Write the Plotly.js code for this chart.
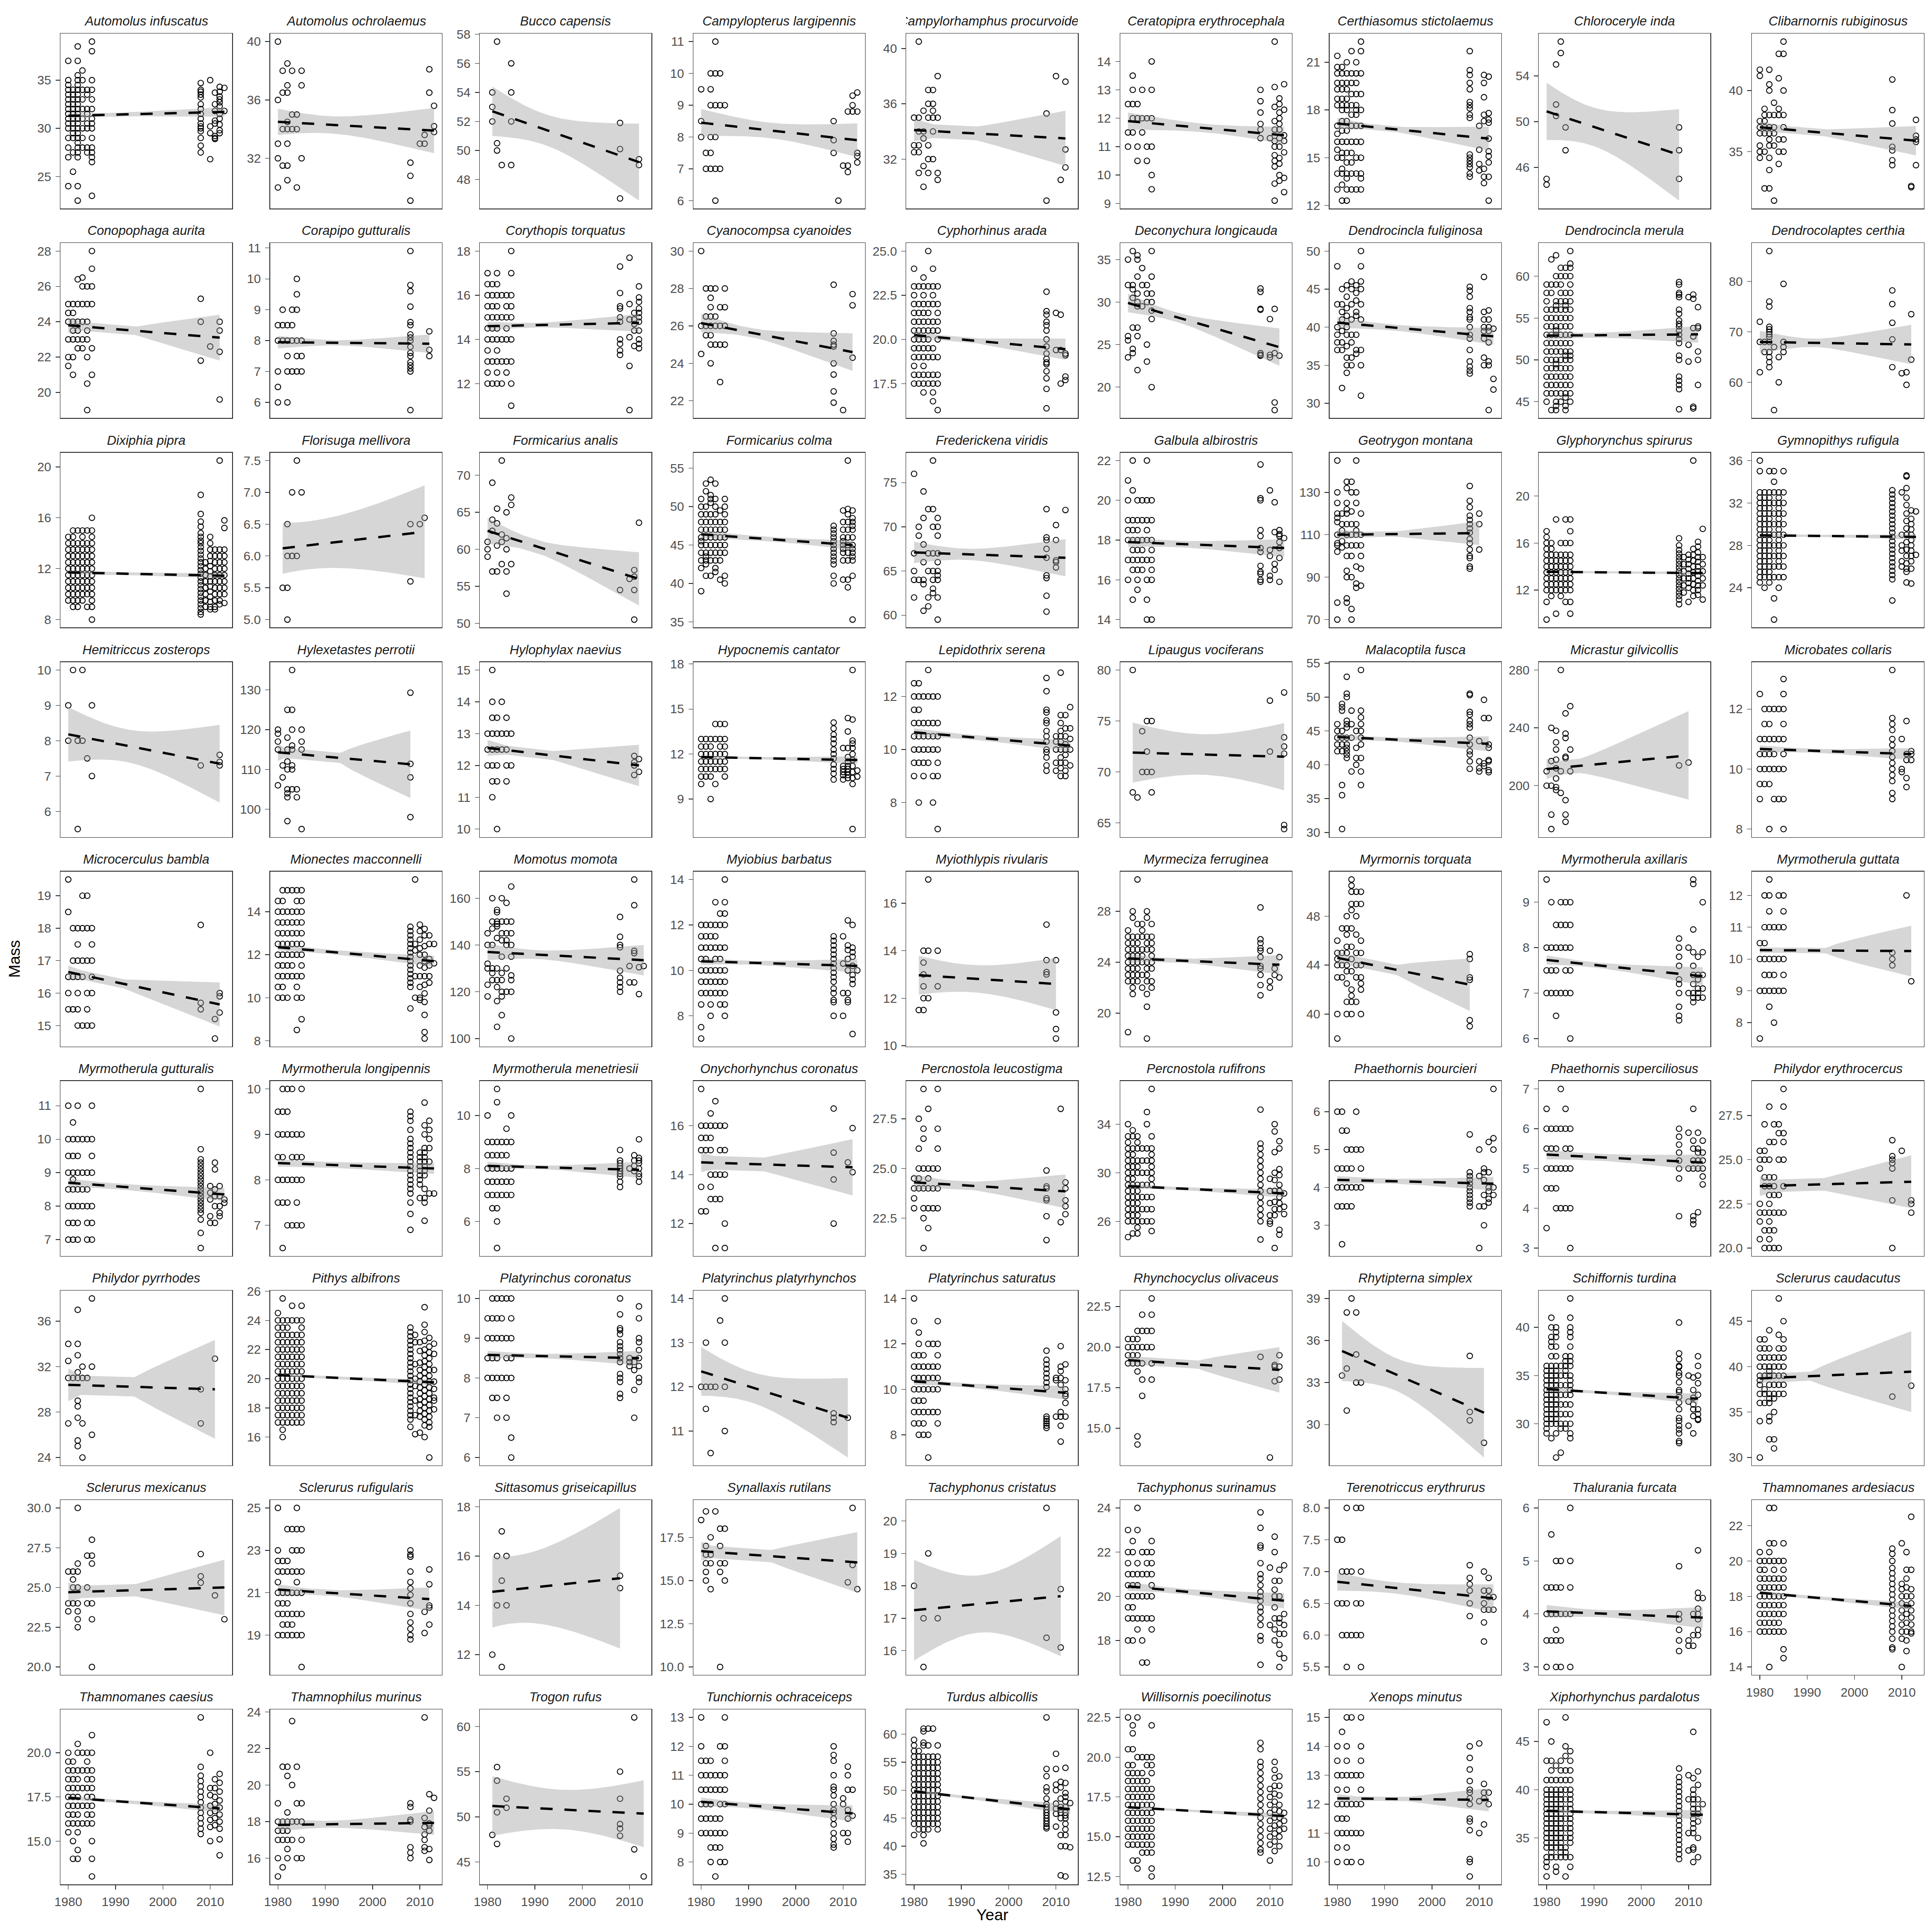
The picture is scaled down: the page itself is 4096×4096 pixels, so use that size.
<!DOCTYPE html>
<html><head><meta charset="utf-8">
<script src="https://cdn.plot.ly/plotly-3.0.1.min.js"></script>
<style>html,body{margin:0;padding:0;background:#fff}#chart{width:4096px;height:4096px}</style>
</head><body><div id="chart"></div>
<script>
const species=["Automolus infuscatus","Automolus ochrolaemus","Bucco capensis","Campylopterus largipennis","Campylorhamphus procurvoides","Ceratopipra erythrocephala","Certhiasomus stictolaemus","Chloroceryle inda","Clibarnornis rubiginosus","Conopophaga aurita","Corapipo gutturalis","Corythopis torquatus","Cyanocompsa cyanoides","Cyphorhinus arada","Deconychura longicauda","Dendrocincla fuliginosa","Dendrocincla merula","Dendrocolaptes certhia","Dixiphia pipra","Florisuga mellivora","Formicarius analis","Formicarius colma","Frederickena viridis","Galbula albirostris","Geotrygon montana","Glyphorynchus spirurus","Gymnopithys rufigula","Hemitriccus zosterops","Hylexetastes perrotii","Hylophylax naevius","Hypocnemis cantator","Lepidothrix serena","Lipaugus vociferans","Malacoptila fusca","Micrastur gilvicollis","Microbates collaris","Microcerculus bambla","Mionectes macconnelli","Momotus momota","Myiobius barbatus","Myiothlypis rivularis","Myrmeciza ferruginea","Myrmornis torquata","Myrmotherula axillaris","Myrmotherula guttata","Myrmotherula gutturalis","Myrmotherula longipennis","Myrmotherula menetriesii","Onychorhynchus coronatus","Percnostola leucostigma","Percnostola rufifrons","Phaethornis bourcieri","Phaethornis superciliosus","Philydor erythrocercus","Philydor pyrrhodes","Pithys albifrons","Platyrinchus coronatus","Platyrinchus platyrhynchos","Platyrinchus saturatus","Rhynchocyclus olivaceus","Rhytipterna simplex","Schiffornis turdina","Sclerurus caudacutus","Sclerurus mexicanus","Sclerurus rufigularis","Sittasomus griseicapillus","Synallaxis rutilans","Tachyphonus cristatus","Tachyphonus surinamus","Terenotriccus erythrurus","Thalurania furcata","Thamnomanes ardesiacus","Thamnomanes caesius","Thamnophilus murinus","Trogon rufus","Tunchiornis ochraceiceps","Turdus albicollis","Willisornis poecilinotus","Xenops minutus","Xiphorhynchus pardalotus"];

// Mass by year: each inner array = [year, masses...]
const s1=[[1980,37,35,34.5,34,33.5,33,32.5,32,31.5,31,30.5,30,29,28,27,24],[1981,34,33.5,33,32.5,32,31.5,31,30.5,30,29.5,29,27.5,25.5],[1982,38.5,37,35.5,35,34.5,34,33.5,33,32.5,32,31.5,31,30.5,30,29.5,29,28.5,28,27.5,27,24,22.5],[1983,36,35,34,33,32,31,30,29,28],[1984,34,33.5,32,31.5,30.5,30,28,27.5],[1985,39,38,35,34,33,32,31,30.5,30,29,28,27.5,27,26.5,23],[2008,34.7,34,33.8,33.5,33.2,32.5,32,31.5,31,30.5,30.2,30,29.7,29,28.2,27.5],[2010,35,30.2,29.5,26.8],[2011,33.7,32.5,31.8,30.8,30.5,29.2,29,28.9],[2012,34.3,33.8,33.3,33,32.7,32.3,31.5,31,30.4,29.8,29.5],[2013,34.2,31.8]];
const s2=[[1980,40,36,33,32,30],[1981,38,36.5,34,31.5],[1982,38.5,37,36.5,34.5,34,33,31.5,30.5],[1983,38,35,34],[1984,35,34,30],[1985,38,37,32],[2008,31.7,30.8,29.1],[2010,33],[2011,33.6,33],[2012,38.1,36.5],[2013,35.6,34.2,33.8]];
const s3=[[1981,54,53,52],[1982,57.5,50.5,50],[1983,49],[1985,56,54,52,49],[2008,51.9,50.1,46.7],[2012,49.4,49]];
const s4=[[1980,9.5,8.5,8],[1981,7.5,7],[1982,10,9.5,9,8,7.5,7],[1983,11,10,9,8,7,6],[1984,10,9,7],[1985,9],[2008,8.5,7.9,7.5],[2009,6],[2010,7.1],[2011,8.8,7.1,6.9],[2012,9.3,9,8.8],[2013,9.4,8.8,7.5,7.4,7.2]];
const s5=[[1980,35,33,32.5],[1981,40.5,35,34,33,32.5,31],[1982,35.5,34,33.5,31.5,30],[1983,37,36,35,33,32,31],[1984,37,36,35.5,35,34,32],[1985,38,35,31,30.5],[2008,35.3,29],[2010,38],[2011,30.5],[2012,37.6,32.7,31.4]];
const s6=[[1980,12.5,11.5,11],[1981,13.5,13,12.5,12,11.5],[1982,12.5,12,11,10.5],[1983,13,12,11.5],[1984,12,11,10.5],[1985,14,13,12,11,10,9.5],[2008,13,12.6,12.2,11.8,11.6,11.3],[2010,11.3],[2011,14.7,13.1,12.4,11.9,11.6,11.2,11,10.7,10.5,10.3,9.7,9.1],[2012,12.7,12.5,12.2,12,11.8,11.6,11.3,11,10.6,10.4,10,9.8],[2013,13.2,12.3,11.4,11.2,10.8,9.9,9.4]];
const s7=[[1980,21.4,20.7,20.3,19.7,19.3,18.7,18.3,17,16.5,16,15.5,15,14,13],[1981,20.7,20.3,19.7,19.3,18.7,18.3,18,17.3,16.7,16,15.3,15,14.3,14,13.3,12.3],[1982,21,20.3,19.7,19.3,18.7,18.3,18,17.3,16.7,16,15.3,14.7,14,13.7,13,12.3],[1983,21.7,20.3,19.7,19,18.3,17.7,17,16,15.3,14.7,14,13],[1984,21,20.3,19.7,19,18.3,18,17.7,17,16,15,14,13],[1985,22.3,21.7,20.3,19,18,17,16,15,14,13.7,13],[2008,21.7,20.5,20.2,19.7,19.3,18.5,18.3,18.1,17.7,17.5,15.2,15,14.8,14.6,14.4,14,13.8],[2010,17,15.5,14.6,14.2],[2011,20.2,19.7,18.8,17.7,17.3,14.3,13.8,13.4],[2012,20.1,17.8,17.4,17.2,16.2,15.4,15.1,14.7,13.8,12.3]];
const s8=[[1980,45,44.5],[1982,55,51.5,50.5],[1983,57,56],[1984,49.5,47.5],[2008,49.5,47.5,45]];
const s9=[[1980,41.7,41.2,37.5,37,36.5,35.5,35,34.5],[1981,38.5,38,37.5,37,36.5,35,32],[1982,41.7,40.5,40,38,37,36.5,36,35.5,34.5,33.5,32],[1983,39,38,37,36.5,35.5,31],[1984,43,41,38.5,38,36,35,34],[1985,44,43,40,38,37,36,35],[2008,40.9,38.4,37.3,35.4,35.1,34.3,33.9],[2012,32.2,32.1],[2013,37.6,36.3,36,35.8,33.9]];
const s10=[[1980,25,24.5,24,23,22,21.5],[1981,25,24.5,24,23.5,23,22,21],[1982,26.4,25,24,23.5,23,22.5],[1983,26.5,26,25,24,23,22.5],[1984,26,25,24,23.5,23,22,20.5,19],[1985,28,27,26,25,22.5,21],[2008,25.3,24,21.8],[2010,22.6],[2012,24,23.5,22.3,19.6]];
const s11=[[1980,8.5,8,7,6.5,6],[1981,9,8.5,8],[1982,8.5,8,7.5,7,6],[1983,9,8.5,8,7],[1984,10,9.5,9,8,7.5,7],[1985,8,7.5,7],[2008,10.9,9.8,9.6,9.1,8.6,8.5,8.2,8.1,8,7.8,7.6,7.5,7.3,7.2,7.1,7,5.75],[2012,8.3,7.7,7.5]];
const s12=[[1980,17,16.5,16,15.5,15,14.5,14,13.5,13,12.5,12],[1981,16.5,16,15.5,15,14.5,14,13,12],[1982,17,16.5,16,15.5,15,14.5,14,13.5,13,12.5,12],[1983,16,15,14,13,12],[1984,16,15.5,15,14.5,14,13,12.5],[1985,18,17,16,15.5,15,14,13,12,11],[2008,17.3,16.1,15.5,15.4,15,14.8,14,13.8,13.5,13.3],[2010,17.7,15.6,14.9,14.1,12.8,10.8],[2011,15.2,14.9,14.7,14.4,13.7],[2012,16.4,15.9,15.7,15.4,15.2,15,14.8,14.4,14,13.8,13.6]];
const s13=[[1980,30,26,24.5],[1981,28,26.5,26,25.5],[1982,28,27.5,27,26.5,26,25.5,25,24],[1983,28,26.5,26,25],[1984,27,26,25,23],[1985,28,27,26,25],[2008,28.2,25.6,25.2,25,24.9,24,23.4,22.5,21.9],[2010,21.5],[2012,27.7,27.1,24.3]];
const s14=[[1980,24,23,22.5,22,21.5,21,20.5,20,19.5,19,18.5,18,17.5],[1981,23,22,21.5,21,20.5,20,19.5,19,18,17.5],[1982,23.5,23,22.5,22,21.5,21,20.5,20,19.5,19,18.5,18,17.5,17],[1983,25,23,22,21.5,21,20.5,20,19.5,19,18,17.5],[1984,24,23,22.5,22,21,20.5,19.5,19,18,17.5,17,16.5],[1985,23,22,21.5,21,20.5,20,19,18,17.5,16],[2008,22.7,21.6,21.4,21,20.8,20.5,20,19.6,19.2,18.9,18.7,18.6,18.2,17.8,17.2,16.1],[2010,21.5,19.4],[2011,21.4,19.4,17.5],[2012,19.2,19.1,17.9,17.7]];
const s15=[[1980,35,32,26,25.5,23.5],[1981,36,32,31.5,30.5,27,24.5,24],[1982,35.5,35,33,31,30,29.5,27,26,22],[1983,34,32,29.5],[1984,32,31,30,25,23],[1985,36,33,31,30,29,28,20],[2008,31.6,31.2,29.2,29.1,24,23.8,23.7],[2010,28,23.8,23.5],[2011,29.2,24,18.2,17.3],[2012,23.7]];
const s16=[[1980,48,43,40,39,38,37],[1981,45,43,42,41,39.5,38,37,32],[1982,45.5,44,42.5,41.5,40,39,37.5,36,35,34],[1983,46,45,43,41,39,38,36,35],[1984,45.5,44.5,43.5,42,41.5,39,37,36.5],[1985,50,48,46,45,43,41,37,35,31],[2008,45.3,44.8,44,42.5,42,41.3,41,40,39,38.5,37,35.5,34.8,34.3,33.9],[2011,46.6,42,41,40,39.5,38.5,36,35],[2012,42.2,41,40,39.5,38,35.5,35,29.1],[2013,39.8,33.2,31.8]];
const s17=[[1980,59,58,57,56,55,54,53,52,51,50,49,48,47,46,45],[1981,62,59,58,56,55,54,53,52,51,50,49,48,47,46,44],[1982,62.5,60,59,57,56.5,56,55,54,53.5,53,52,51,50,49.5,49,48,47,46,45,44.5,44],[1983,61,60,59,58,57,56,55,54,53,52,51,50,49,48,47,46,45],[1984,61,60,58,57,56.5,56,55,54,53,52,51,50.5,50,49,48,47,46,45.5,44.5,44],[1985,63,61.5,61,60,59,58,57,56,55,54,53,52,51,50.5,50,49,48,47,46,45],[2008,59.3,59,58,57.8,57.5,56,55.5,54.7,54.3,54,53.5,53,52.5,52,50.5,50,48,47.5,47,46.5,44.1],[2010,57.5,51.8,49.8],[2011,57.8,57.3,53.8,52.8,44.4,44.2],[2012,56.3,54,53.8,51,50,47]];
const s18=[[1980,72,68,62],[1981,68,66],[1982,86,76,75,71,70.5,70,69.5,69,68,66,65,64,63],[1983,67,54.5],[1984,65,60],[1985,79.5,68,67,66],[2008,78.2,75.5,71.8,68.5,63],[2010,61.8],[2011,62,59.5],[2012,73.5,64.5]];
const s19=[[1980,14.5,14,13.5,13,12.5,12,11.5,11,10.5,10,9.5],[1981,15,14.5,14,13.5,13,12.5,12,11.5,11,10.5,10,9.5,9],[1982,15,14,13.5,13,12.5,12,11.5,11,10.5,10,9.5,9],[1983,15,14.5,14,13.5,13,12.5,12,11.5,11,10.5,10,9.5],[1984,15,14,13.5,13,12.5,12,11.5,11,10.5,10,9],[1985,16,15,14.5,14,13.5,13,12.5,12,11.5,11,10.5,10,9.5,9,8],[2008,17.8,16.3,15.7,15.3,14.8,14.5,14.2,14,13.7,13.4,13.1,12.8,12.5,12.2,11.9,11.6,11.3,11,10.7,10.4,10.1,9.8,9.5,9.2,8.9,8.6,8.4],[2009,12.5,12,11.5,11,10.5,10,9.5,9],[2010,14.5,14,13.5,13,12.6,12.2,11.8,11.4,11,10.6,10.2,9.8,9.4,9,8.8],[2011,13.5,13,12.5,12,11.5,11,10.5,10,9.5,9,8.8],[2012,20.5,13.5,13,12.5,12,11.5,11,10.5,10,9.5,9.2],[2013,15.8,15.2,13.5,13,12.5,12,11.5,11,10.5,10,9.3]];
const s20=[[1981,5.5],[1982,6.5,6,5.5,5],[1983,7,6],[1984,7.5,6],[1985,7],[2008,6.5,5.6],[2010,6.5],[2011,6.6]];
const s21=[[1980,61,60,59],[1981,69,64,62.5,57],[1982,65.5,63.5,60.5,57],[1983,72,62,61,58],[1984,65,61.5,60,57,54],[1985,67,66,58],[2008,54.5],[2010,56],[2011,57.2,56.3,54.5,50.5],[2012,63.6]];
const s22=[[1980,51,50,49,48,47,46,45.5,45,44,43,42,39],[1981,53,52,50,49,48,47,46,45,44,43.5,43,42.5,41],[1982,53.5,51.5,51,50.5,49,48,47,46,45,44,43,41],[1983,53,51,50,49,48,47,46,45,44,43,42,41.5],[1984,49.5,48,47,46,45,44,43,40.5],[1985,51,50,49,48,47,46,45,44,41,40],[2008,47.5,47,46.5,46,45.5,45,44.5,44,43.5,43,42.5,41,40],[2010,49.5,48,47,46,45.5,45,44.5,44,43,40.5],[2011,56,49.7,49,48,47,46,45,44,43,40.5,39.5],[2012,49.5,48.5,48,47.5,47,46,45,44.5,44,43.5,43,41,35.3]];
const s23=[[1980,76,67,65,64,62],[1981,70,69,64],[1982,74,71,68,66,64,63.5,60.5],[1983,72,67,65,62,61],[1984,77.5,72,70,67,65,64,63,62.5],[1985,71,70,69,67,66,65,64.5,64,62,59.5],[2008,72,68.8,68.5,67.5,66.5,64.5,64.2,62.2,60.4],[2010,70.2,68.5,66.2,66,65.4],[2012,71.9]];
const s24=[[1980,21,20,19,18.5,18,17,16],[1981,22,20.5,19,18.5,18,17.5,17,16.5,15],[1982,20,19,18.5,18,17.5,17,16.5,16,15.5],[1983,20,19,18,17.5,17,16.5],[1984,22,20,19,18.5,18,17,16,15,14],[1985,20,19,18,17.5,17,16.5,16,14],[2008,21.8,20.1,20,18.5,18.2,17.6,17.4,16.7,16.4,16.3,16,15.9],[2010,20.5,17.5,17.2,16.2,16],[2011,19.9,18.4,16.8,16.5],[2012,18.5,18.3,18.2,17.9,17.6,17.1,15.9],[2013,18.1]];
const s25=[[1980,145,130,125,120,118,116,110,106,105,102,78,70],[1981,120,115,112,107,104],[1982,135,132,125,122,120,115,110,105,100,93,90,80,78],[1983,135,130,121,115,110,105,100,90,75,70],[1984,145,130,125,115,112,110,105,95,87,85],[1985,120,110,105,100,94,86],[2008,133,126,123,119,117,115,113,111,108,106,103,100,99,95,94],[2010,120,115,103]];
const s26=[[1980,17,16.5,16,15.5,15,14.5,14,13.5,13,12.5,12,11,9.5],[1981,16,15.5,15,14.5,14,13.5,13,12.5,12,11.5],[1982,18,15,14.5,14,13.5,13,12.5,12,10],[1983,16,15,14.5,14,13.5,13,12.5,12,11.5],[1984,18,16,15,14.5,14,13.5,13,12.5,12,11],[1985,18,17,16,15,14.5,14,13.5,13,12.5,12,11,10],[2008,16.4,15.8,15.4,15.1,14.8,14.5,14.2,13.9,13.6,13.3,13,12.7,12.4,12.1,11.8,11.5,11.2,10.8],[2009,14.8,14.2,13.6,13,12.4,11.8],[2010,15,14.6,14.2,13.8,13.4,13,12.6,12.2,11],[2011,23,15.5,15,14.5,14,13.5,13,12.5,12,11.5],[2012,16.1,15.7,15.2,14.8,14.4,14,13.6,13.2,12.8,12.4,12,11.6],[2013,17.2,14.8,14.2,13.6,13,12.4,11.2]];
const s27=[[1980,36,35,33,32.5,32,31.5,31,30.5,30,29.5,29,28.5,28,27.5,27,26.5,26,25.5,25,24.5],[1981,33,32.5,32,31.5,31,30.5,30,29.5,29,28.5,28,27.5,27,26.5,26,25.5,25,24],[1982,35,33,32.5,32,31.5,31,30.5,30,29.5,29,28.5,28,27.5,27,26.5,26,25.5,25,24.5],[1983,35,34,33,32,31,30,29,28,27,26,25,23,21],[1984,33,32.5,32,31.5,31,30.5,30,29.5,29,28.5,28,27.5,27,26.5,26,25,24],[1985,35,33,32,31,30,29,28,27,26,25],[2008,33.2,32.8,32.4,32,31.6,31.2,30.8,30.4,30,29.6,29.2,28.8,28.4,28,27.6,27.2,26.8,26.4,26,25.6,25.2,24.8,22.8],[2010,33,29,28,27.5,26.5,26],[2011,34.6,34.5,33.4,32.5,31.8,31,30.3,29.6,29,28.3,27.6,27,26.3,25.8,25.5,24.5],[2012,31.3,30.5,30,29.5,29,28.5,28,27.5,27,26.5,25.8,24.4],[2013,31.2,27.1]];
const s28=[[1980,9,8],[1981,10],[1982,8,5.5],[1983,10,8],[1984,7.5],[1985,9,7],[2008,7.3],[2012,7.6,7.4,7.3]];
const s29=[[1980,120,119,117,115,106],[1981,111,108],[1982,125,118,115,112,110,105,104,103,97],[1983,135,125,120,116,115,111,110,105],[1984,105,103],[1985,120,117,115,95],[2008,129.3,111.4,108,98]];
const s30=[[1980,13,12.5,12],[1981,15,14,13.5,13,12.5,12,11.5,11],[1982,13.5,13,12.5,12,11.5,10],[1983,14,13,12.5],[1984,13.5,13,12.5,12,11.5],[1985,13,12],[2011,12.3,12.1,12,11.7],[2012,12.2,11.8]];
const s31=[[1980,13,12.5,12,11.5,11,10.5,10],[1981,13,12.5,12,11.5,11,10.5],[1982,13,12.5,12,11.5,11,10.5,9],[1983,14,13,12,11.5,11,10],[1984,14,13,12.5,12,11.5,11],[1985,14,13,12.5,12,11.5,11,10.5],[2008,14.1,13.7,13.3,13,12.7,12.3,12,11.7,11.3,11,10.7,10.3],[2010,12.4,11.2,11,10.8,10.6,10.3],[2011,14.4,13.5,12.4,11.8,11.5,11.2,11,10.8,10.6,10.4],[2012,17.6,14.3,12.9,12.7,12.4,12,11.6,11.2,10.8,10.4,10,7],[2013,10.9,10.5]];
const s32=[[1980,12.5,12,11.5,11,10.5,10,9.5,9],[1981,12.5,12,11.5,11,10.5,10,9.5,8],[1982,12,11,10.5,10,9.5,9],[1983,13,12,11,10.5,10,9.5],[1984,12,11,10.5,10,9,8],[1985,12,11,10.5,10,9.5,9,7],[2008,12.7,12.2,11.5,11.4,11.1,11,10.7,10.5,10.3,10,9.9,9.7,9.4,9.2],[2010,10.5,10.3,10,9.5,9.2],[2011,12.9,11.3,11,10.7,10.5,10.3,10,9.7,9.5,9.3,9],[2012,11.3,10.8,10.5,10.2,10,9.8,9.5,9.2,9],[2013,11.6,10.8,10.4,10,9.4]];
const s33=[[1981,80,68],[1982,67.5],[1983,74,70],[1984,75,72,70],[1985,75,70,68],[2010,77,72],[2013,77.8,73.4,72.5,71.8,64.8,64.4]];
const s34=[[1980,46,45,44,43,42],[1981,49,48.5,48,45,44,43,42,37,35.5,30.5],[1982,53,50.5,50,46.5,46,45.5,44,43,42.5,42,41.5,41],[1983,48,46,44,39],[1984,45,42.5,41,40],[1985,54,48,47,46,45,44,43,41,39,37],[2008,50.5,50.3,47.8,47.4,46.5,46,45.5,44,43,42,41.5,40.5,39.4],[2010,43.5,40.5,39.5,39],[2011,49.6,46.9,40.2,39.8],[2012,46.9,43,42.5,40.7,40.5,39.2,38.9]];
const s35=[[1980,210,200],[1981,240,217,200,180,170],[1982,238,230,225,218,212,205,199,197],[1983,280,210,195],[1984,250,236,233,220,219,190,180,175],[1985,255,225,210],[2008,214],[2010,216]];
const s36=[[1980,12.5,11,10.5,10,9.5,9],[1981,12,11.5,11,10.5,10,9.5],[1982,12,11.5,11,10.5,10,9.5,8],[1983,12,11,10.5,10,9],[1984,12,11,10,9],[1985,13,12.5,12,11.5,11,10.5,10,9,8],[2008,13.3,11.7,11.5,11.3,11,10.8,10.6,10.4,10.2,10,9.8,9.6,9.2,9],[2010,11,10,9.9],[2011,11.6,10.5,10.3,9.7,9.4],[2012,10.6,10.5,10.3]];
const s37=[[1980,19.5,18.5,16.5,16,15.5],[1981,18,17,16.5,15.5],[1982,18,17.5,17,16.5,16,15.5,15],[1983,19,18,17,16.5,15],[1984,19,18,17,16,15.5,15],[1985,18,17.5,17,16.5,16,15],[2008,18.1,15.7,15.5],[2011,15.2,14.6],[2012,16,15.9,15.4]];
const s38=[[1980,14.5,14,13.5,13,12.5,12,11.5,11,10.5,10],[1981,15,14.5,14,13.5,13,12.5,12,11.5,11,10.5,10],[1982,15,14,13.5,13,12.5,12,11.5,11,10],[1983,15,14,13.5,13,12.5,12,11.5,11],[1984,15,14.5,14,13.5,13,12.5,12,11,10.5,10,8.5],[1985,15,14.5,14,13.5,13,12.5,12,11.5,11,10,9],[2008,13.3,13.1,12.9,12.7,12.5,12.3,12.1,11.9,11.7,11.5,11.3,11.1,10.9,10.7,10.5,9.5],[2009,15.5,12.5,12.2,11,10],[2010,13.4,13.1,12.7,12.3,12,11.5,11,10.5,10,9.9],[2011,13.2,12.9,12.4,12,11.7,11.4,11,10.6,10.2,9.8,9.2,8.4,8.1],[2012,12.9,12.5,11.8,11.5,11,10.7],[2013,12.5,11.6]];
const s39=[[1980,145,140,132,130,123,118],[1981,160,150,147,140,130,128,125],[1982,155,154,150,149,148,143,130,125,122,116,105],[1983,160,150,145,142,135,128,125,120,118,110],[1984,158,150,145,142,140,130,120],[1985,165,150,145,140,135,127,125,120,100],[2008,152,143.5,140,139,129,126,124,122,120],[2010,131,124],[2011,168,157,137.5,136.5,124],[2012,130.5,119],[2013,131]];
const s40=[[1980,12,11.5,11,10.5,10,9.5,9,8.5,7.5,7],[1981,12,11.5,11,10.5,10,9.5,9],[1982,12,11.5,11,10,9.5,9,8.5,8],[1983,13,12,11.5,11,10.5,10,9.5,9],[1984,12.5,12,11,10.5,10,9.5,9,8.5],[1985,14,13,12.5,12,11,10,9.5,9,8.5,8],[2008,11.5,11.3,11.1,10.9,10.7,10.5,10.3,10.1,9.9,9.7,9.5,9.2,9,8.7,8.6,8],[2010,11.5,10.3,9,8],[2011,12.2,11.1,10.9,10.5,10,9,8.7,8.6],[2012,12,11,10.8,10.6,10.2,9.8,9.6,9.4,7.2],[2013,10]];
const s41=[[1981,11.5],[1982,14,13.5,13,12.5,12,11.5],[1983,17,14,12],[1985,14,12.5],[2008,15.1,13.6,13.1,13],[2010,13.6,11.4,10.7,10.3]];
const s42=[[1980,26.5,26,25.5,25,24.5,24,23.5,23,22.5,18.5],[1981,28,27.5,26,25.5,25,24.5,24,23.5,23,22.5,22,21.5],[1982,30.5,27,26,25.5,25,24.5,24,23.5,23,22.5],[1983,27,26.5,26,25,24.5,24,23,22],[1984,28,27.5,26,25.5,25,24,23.5,23,22.5,21.5,20.5,18],[1985,27,26,25.5,25,24.5,24,23.5,22.5,22],[2008,28.3,25.8,25.5,25.1,24.9,24.4,23.7,23.5,23,22.2,21.4],[2010,24.9,22.5,22],[2011,23.5,23],[2012,24.4,22.8]];
const s43=[[1980,46,45,44.5,44,43,40,38],[1981,47,45,44,43],[1982,48,47,46.5,45.5,45,44,43.5,42.5,41,40],[1983,51,50.5,50,49,48.5,47,45.5,44.5,43.5,42,41.5,41,40],[1984,50,49,48,46.5,45,44,43,41],[1985,50,49,46,45,44,43,42.5,42,40],[2008,44.9,44.5,43,42.8,39.5,39]];
const s44=[[1980,9.5,8,7.5,7],[1981,9,8,7.5,7],[1982,8.5,8,7.5,7,6.5],[1983,9,8.5,8,7],[1984,9,8.5,8,7.5,7],[1985,9,8.5,8,7.5,7,6],[2008,8.2,8,7.8,7.6,7.3,7.2,7,6.7,6.5,6.4],[2010,8,7],[2011,9.5,9.4,8.4,7.9,7.6,7.4,7.2,7,6.9,6.8],[2012,7.8,7.4,7.3,7.1,7,6.9],[2013,9,7.9,7.4,7.1,6.9]];
const s45=[[1980,10.5,10,9,7.5],[1981,12,11,10.5,10,9.5,9],[1982,12.5,12,11.5,11,10,9.5,9,8.5],[1983,11,10,9.5,9,8],[1984,12,11,10,9],[1985,12,11.5,11,10,9.5,9],[2008,10.2,10,9.8],[2011,12],[2012,9.3]];
const s46=[[1980,11,10,9.5,9,8.5,8,7.5,7],[1981,10.5,10,9.5,9,8.8,8.5,8,7.5,7],[1982,11,10,9.5,9,8.5,8,7.5,7],[1983,10,9,8.5,8],[1984,10,9,8.5,8,7.5,7],[1985,11,10,9.5,9,8,7.5,7],[2008,11.5,9.7,9.4,9.3,9.2,9.1,9,8.9,8.8,8.7,8.6,8.5,8.4,8.3,8.2,8.1,8,7.9,7.8,7.6,7.2,6.75],[2010,8.6,8.4,8.2,7.7,7.5],[2011,9.3,9.1,8.5,8.3,8,7.5],[2012,8.6,8.3,8,7.8,7.7],[2013,8.2,8.1]];
const s47=[[1980,9.5,9,8.5,8,7.5],[1981,10,9.5,9,8.5,8,7.5,6.5],[1982,10,9.5,9,8,7.5,7],[1983,10,9,8.5,8,7],[1984,9,8.5,8,7.5,7],[1985,10,9,8.5,8,7],[2008,9.5,9.4,9.3,9.1,8.9,8.8,8.7,8.6,8.5,8.4,8.3,8.2,8.1,8,7.9,7.8,7.7,7.5,7.25,6.9],[2010,8.6,8.5,8.4,8.3,8.2,8.1,8,7.9,7.6],[2011,9.7,9.2,9,8.7,8.6,8.5,8.4,8.3,8.2,8.1,7.8,7.6,7.5,7.1],[2012,9.3,9.1,8.9,8.7,8.4,7.7],[2013,7.7]];
const s48=[[1980,10,9,8.5,8,7.5,7],[1981,9,8.5,8,7.5,7,6.5],[1982,11,10.5,9,8.5,8,7.5,7,6.5,6,5],[1983,9,8.5,8,7.5,7],[1984,9.5,9,8.5,8,7.5,7],[1985,10,9,8,7.5,7],[2008,8.7,8.3,8.2,8.1,8,7.9,7.8,7.7,7.5,7.3],[2010,8],[2011,8.5,8.3,8.1,7.9],[2012,9.1,8.4,8.3,8.2,8,7.8,7.7,7.5]];
const s49=[[1980,17.5,16,15.5,15,13.5,12.5],[1981,16,15.5,15,12.5],[1982,16.5,16,15.5,15,14,13.5,13],[1983,17,16,14,13,11],[1984,16,15,14,13],[1985,16,15,14,12,11],[2008,16.7,14.9,13.8,12],[2011,14.5],[2012,15.9,14.1]];
const s50=[[1980,24.5,24,23.5,23],[1981,27.5,26,25,24.5,24],[1982,29,27,26.5,25,24,23,22.5,21],[1983,28,25,24.5,24,23,22],[1984,25,24,23],[1985,29,27,26,25,24,23],[2008,24.9,24.1,24,23.5,23.4,22.6,21.4],[2011,28,22.3],[2012,24.3,24,23.4,23.1,22.7]];
const s51=[[1980,34,33,32.5,32,31.5,31,30.5,30,29.5,29,28.5,28,27.5,27,26.5,26,24.7],[1981,33.5,33,32,31.5,31,30.5,30,29.5,29,28.5,28,27.5,27,26.5,26,25],[1982,33,32.5,32,31,30.5,30,29,28.5,28,27.5,27,26.5,26,25.5,25],[1983,32,31,30,29,28,27,26],[1984,35,34,32,31,30,29,28,27,26],[1985,36.9,33,32,31.5,31,30.5,30,29.5,29,28,27,26,25.2],[2008,35.2,32.4,32,31.5,31,30.5,30,29.5,29,28.5,28,27.5,27,26.5,26,24.5],[2010,29.5,28.5,27.5,26.5,26,25.8],[2011,34,33.4,31.7,30,29.4,28.5,27.6,27,26.5,23.8],[2012,32.6,32,30.3,29.8,29,28.5,28,27.5,27,25.3,24.9],[2013,28.3,27.2,26.6]];
const s52=[[1980,6,4.5,4,3.5],[1981,6,5.5,4.5,4,3.5,2.5],[1982,5.5,5,4.5,4,3.5],[1983,5,4.5,4,3.5],[1984,6,5,4],[1985,5,4.5,4],[2008,5.4,4.4,4.3,4.2,4.1,4,3.9,3.8,3.7,3.6,3.5],[2010,5,4.3,3.5,2.4],[2011,4.5,4.4,4.2,3.8,3.5,3],[2012,5.2,4.4,4,3.9,3.7,3.6],[2013,6.6,5.3,5,4,3.8]];
const s53=[[1980,6.5,6,5.5,5,4.5,3.5],[1981,6,5.5,5,4.5],[1982,6,5.5,5,4.5,4],[1983,7,6,5,4],[1984,6.5,6,5.5,5,4],[1985,6,5.5,5,4,3],[2008,6,5.8,5.6,5.4,5.2,5,4.75,3.8],[2010,5.9,5],[2011,6.5,5.7,5.5,5.2,5,3.8,3.7,3.6],[2012,5.9,5.5,5.4,5.2,5,3.9],[2013,5.7,5.4,5.2,5,4.8,4.6]];
const s54=[[1980,25.5,25,24.5,22.5,22,21.5,20.5],[1981,27,25.5,25,24,23.5,22,21,20],[1982,28,26,25,24,23.5,23,22.5,22,21.5,21,20.5,20],[1983,27,26,24,23.5,23,22,21,20],[1984,27,26.5,25,23,22,20],[1985,29,28,26.5,26,25,23.5,22],[2008,26.1,25.2,25,24.8,24.5,22.7,20],[2010,25.5],[2012,22.7,22.5,22]];
const s55=[[1980,34,32.5,31,27],[1981,31],[1982,37,34,33,31.5,31,29,28.5,27.5,25.5,25],[1983,32,31,27,24],[1984,31],[1985,38,32,26],[2008,30,27],[2011,32.7]];
const s56=[[1980,24.5,24,23.5,23,22.5,22,21.5,21,20.5,20,19.5,19,18.5,18,17.5,17],[1981,25.5,24,23.5,23,22.5,22,21.5,21,20.5,20,19.5,19,18.5,18,17.5,17,16.5,16],[1982,24,23.5,23,22.5,22,21.5,21,20.5,20,19.5,19,18.5,18,17.5,17],[1983,25,24,23,22.5,22,21.5,21,20.5,20,19.5,19,18.5,18,17.5,17],[1984,24,23,22.5,22,21.5,21,20.5,20,19.5,19,18.5,18,17.5,17],[1985,25,24,23.5,23,22.5,22,21.5,21,20.5,20,19.5,19,18.5,18,17.5,17],[2008,23.5,23.2,22.9,22.6,22.3,22,21.7,21.4,21.1,20.8,20.5,20.2,19.9,19.6,19.3,19,18.7,18.4,18.1,17.8,17.5,17.2,16.7],[2009,23,22.5,21,20,19.5,18.5,17.5,16.2],[2010,22.5,21.9,21.1,20.6,20.2,19.8,19.4,19,18.6,18.2,17.8,17.4,16.3],[2011,24.9,23.7,23.2,22.6,22,21.6,21.2,20.8,20.4,20,19.6,19.2,18.8,18.4,18,17.6,17.2,16.8,16],[2012,22.8,22.2,21.8,21.4,21,20.6,20.2,19.8,19.4,19,18.6,18.2,17.8,17.4,17,16.7,14.6],[2013,22.4,21.7,20.6,19.8,19.3,18.7,18.5,17.9]];
const s57=[[1980,9.5,9,8.5,8],[1981,10,9.5,9,8.5,8,7.5],[1982,10,9.5,9,8.5,8,7.5,7],[1983,10,9.5,9,8],[1984,10,9,8.5,8,7.5,7],[1985,10,9.5,9,8.5,8,6.5,6],[2008,10,9.6,9.25,9.2,9.1,8.9,8.8,8.7,8.6,8.5,8.4,8.1,8,7.9,7.6,7.5],[2010,8.5,8.4,8.3],[2011,8.4,8.2,7.7,7],[2012,9.8,9.5,9,8.9,8.7,8.5,8.3,8,7.9]];
const s58=[[1980,12],[1981,13,12,11.5],[1982,12,10.5],[1983,12],[1984,13.5],[1985,14,13,12,11],[2008,11.4,11.3,11.2],[2011,11.3]];
const s59=[[1980,14,13,11.5,11,10.5,10,9.5,9,8.5],[1981,12.5,12,11.5,11,10.5,10,9.5,9,8.5,8],[1982,11.5,11,10.5,10,9.5,9,8.5,8],[1983,12,11,10.5,10,9,8,7],[1984,12,11,10.5,10,9],[1985,13,12,11.5,11,10.5,10,9,8.5],[2008,11.7,11.3,11.1,10.9,10.7,10.5,10.3,10.1,8.8,8.7,8.6,8.5,8.4,8.3],[2010,10.5,10.4,8.8],[2011,11.9,11,10.8,10.5,10.2,9,8.8,8.4,7.7],[2012,11.1,10.4,10,9.8,9.7,9.4,8.8]];
const s60=[[1980,20.5,20,19.5,19],[1981,20.5,20,19.5,19],[1982,21,20.5,20,19.5,19,18.5,14.5,14],[1983,22,21,20,19,18,17],[1984,21,20],[1985,23,22,21,20,19,18],[2008,19.4],[2010,13.2],[2011,18.9,18.8,17.9],[2012,19.5,18.8,18]];
const s61=[[1981,33.5],[1982,38,34,31],[1983,39],[1984,38,35,33],[1985,33],[2008,34.9,30.9,30.3],[2011,28.7]];
const s62=[[1980,36,35.5,35,34.5,34,33.5,33,32.5,32,31.5,31,30.5,30,29.5,29],[1981,41,40,39,38.5,38,37,36,35.5,35,34.5,34,33.5,33,32.5,32,31.5,31,30.5,30,28.5],[1982,40,39.5,39,38,37,36,35.5,35,34.5,34,33.5,33,32.5,32,31.5,31,30.5,30,29,26.5],[1983,36,35,34,33,32,31,30,29.5,27],[1984,37,36.5,36,35.5,35,34,33,32,31,30,29.5],[1985,43,41,40,39.5,39,38,37,36.5,36,35,34.5,34,33.5,33,32,31,30,29,28.5],[2008,40.5,37.3,36.7,36,35.9,35.3,35,34.3,33.5,33.3,32.8,32.2,31.5,30.6,30.3,29.8,29.4,29,28.2,28],[2010,35,32.3,29.8],[2011,34.8,33.5,32.7,32,31.5,30.8,29],[2012,37,36,35,34.2,33,31.5,31,30.5,30.4]];
const s63=[[1980,43,42,41,40,39,38.5,38,37,36,34,30],[1981,43,42,41,40,39,37.5,37,36],[1982,44,42,41,40,39.5,39,38,37,36.5,36,34.5,34,32],[1983,41,40,39,38,37,36.5,35,32,31],[1984,47.5,43.5,42,41,40,39,38,37],[1985,45,43,42,41,40,39,38,37],[2008,36.7],[2012,37.9]];
const s64=[[1980,26,24,23.5],[1981,26,25.5,25,24],[1982,30,26.5,26,25,24,23.5,23,22.5],[1984,27,25,24],[1985,28,27,26.5,24,23,20],[2008,27.1,25.7,25.3],[2011,24.5],[2013,23]];
const s65=[[1980,25,23,22.5,22,21.5,21,20.5,20,19],[1981,22.5,22,21,20.5,20,19.5,19],[1982,24,22.5,22,21,20.5,20,19.5,19],[1983,24,23,22,21,20,19.5,19],[1984,25,24,23,22,21.5,21,20,19],[1985,24,23,22,21,20,19,17.5],[2008,23,22.8,22.7,22,21.5,21.2,20.9,20.5,20,19.6,19.3,19,18.8],[2011,20.1,19.1],[2012,22.1,21.4,20.4,20.3,19.5]];
const s66=[[1981,12],[1982,16,14],[1983,17,15,11.5],[1984,16,14],[2008,15.2,14.7]];
const s67=[[1980,18.5],[1981,19,17,16.5,16,15.5,15],[1982,17.5,16.5,16,14.5],[1983,19],[1984,18,17,16,15.5,10],[1985,18,16,15],[2011,14.9],[2012,19.2,15.9],[2013,14.5]];
const s68=[[1980,18],[1982,17,15.5],[1983,19],[1985,17],[2008,20.4,16.4],[2011,17.9,16.1]];
const s69=[[1980,23,22,21.5,21,20.5,20,19.5,19,18],[1981,22.5,22,21,20.5,20,19.5,19,18],[1982,24,23,21.5,21,20.5,20,19,18.5],[1983,22,21,20,19,18,17],[1984,22,21.5,21,20,19,17],[1985,22.5,22,21.5,21,20.5,20,19,18.5],[2008,23.8,23.1,22.3,22.2,21.5,21,20.8,20.5,20.2,20,19.8,19.5,19.3,19,18.7,18.2,18,16.9],[2010,21.3,18.7],[2011,22.7,22,20.7,20.3,20,19.5,19,18.5,18],[2012,21.2,20.7,20,19,18.8,18.3,17.8,17.4,16.8],[2013,21.4,19.2,18.7,18.3,17.2]];
const s70=[[1980,7.5,6.5],[1981,7.5,7,6.5,6],[1982,8,7,6.5,6,5.5],[1983,7,6],[1984,8,6.5,6],[1985,8,7,6.5,6,5.5],[2008,7.1,6.9,6.8,6.7,6.5,6.3],[2011,7,6.7,6.5,6.4,6.2,5.9],[2012,6.9,6.7,6.6,6.4],[2013,6.6,6.4]];
const s71=[[1980,4.5,4,3.5,3],[1981,5.5,4.5,4,3.5],[1982,5,4.5,4,3.7,3.5,3],[1983,5,4.5,4,3.5,3],[1984,4],[1985,6,5,4.5,4,3],[2008,4.9,4,3.9,3.7,3.5,3.3],[2010,3.5,3.4],[2011,4,3.6,3.4],[2012,5.2,4.4,4.3,4.1,4,3.9,3.7,3.6],[2013,4.3]];
const s72=[[1980,20.5,20,19.5,19,18.5,18,17.5,17,16.5,16],[1981,20,19.5,19,18.5,18,17.5,17,16.5,16],[1982,23,21,20.5,20,19,18.5,18,17.5,17,16.5,16,14],[1983,23,21,20,19.5,19,18.5,18,17.5,17,16.5,16],[1984,20,19,18.5,18,17.5,17,16.5,16],[1985,21,20,19.5,19,18.5,18,17.5,17,16,15,14.5],[2008,20.7,20.4,20,19.6,19.3,19,18.7,18.4,18.1,17.8,17.5,17.2,16.9,16.6,16.3,16,15.6,15.1,15],[2010,21,18.7,18.4,18,17.6,17.2,16.8,16.4,16,15.6,14],[2011,20.5,19.5,19,18.5,18,17.5,17,16.5,16,15.5,14.9],[2012,22.5,19.5,18.4,18,17.6,17.2,16.8,16.4,16,15.9]];
const s73=[[1980,20,19.5,19,18.5,18,17.5,17,16.5,16,15.5],[1981,19.5,19,18.5,18,17.5,17,16.5,16,15,14],[1982,20.5,20,19,18.5,18,17.5,17,16.5,16,15.5,14.5,14],[1983,20,19,18,17,16],[1984,20,19.5,19,18.5,18,17.5,17,16.5,16],[1985,21,20,19,18.5,18,17.5,17,16.5,16,15,14,13],[2008,22,19.2,18.7,18.4,18.1,17.8,17.5,17.2,16.9,16.6,16.3,16,15.7,15.4],[2010,20,18,17.6,17,16.6,16.2,15.8,15],[2011,18.5,18,17.5,17.1,16.7,16.3,15.9],[2012,18.8,18.3,17.8,17.3,16.9,16.5,16.1,15.7,15.1,14.2]];
const s74=[[1980,19,18,17.5,17,16,15],[1981,21,18,17.5,17,15.5],[1982,21,20.5,18.5,18,17.5,17,16.5,16],[1983,23.5,20,18,17],[1984,21,19,18,16],[1985,19,18,17,16],[2008,19,18.8,18.1,18,16.6,16.3,16],[2011,23.7,18.2,17.7,17.3,17,16.6,16.4],[2012,19.5,18.6,17.9,17.8,17.5,16.5,15.9],[2013,19.3]];
const s75=[[1981,48],[1982,55.5,54,50.5,47],[1984,52,51],[2008,55,52,49.2,48.7,47.9],[2011,61,46.4],[2013,43.4]];
const s76=[[1980,13,12,11.5,11,10.5,10,9.5,9],[1981,11.5,11,10.5,10,9.5,9],[1982,11.5,11,10.5,10,9.5,9,8.5,8],[1983,11,10.5,9.5,9,8.5,7.5],[1984,12,11,10.5,10,9.5,9,8.5,8],[1985,13,12,11.5,11,10.5,10,9,8],[2008,12,11.7,11.5,11,10.6,10.5,10.3,10,9.8,9.7,9.5,9.3,9,8.8,8.6,8.5],[2010,10.2,10,9],[2011,11.3,11,10.5,9.8,9.5,9,8.7],[2012,10.5,9.6]];
const s77=[[1980,59,58,57,56,55,54,53,52,51,50,49,48,47,46,45,44,42],[1981,57,56,55,54,53,52,51,50,49,48,47,46,45,44,43],[1982,61,60.5,58.5,58,56,55,54,53,52,51,50,49,48,47,46,45,44,43,42,40.5],[1983,61,58,56,55,54,53,52,51,50,49,48,47,46,45,44,43],[1984,61,56,55,54,53,52,51,50,49,48,47,46,45,44],[1985,58,56,55,54,53,52,51,50,49,48,47,46,45,44,43],[2008,63,53.8,52.5,50.5,49.8,48.5,47.5,47,46.5,46,45.5,45,44.5,44,43.5,43.2],[2010,56.5,53.8,51,50,47.6,46.7,45.8,43.5],[2011,51.5,50.5,48.5,47,46.5,46,45,42,40,34.8],[2012,54,51.3,49.5,48.8,48,47,46,45.5,45,44,43,42,40,34.6],[2013,47.7,39.8]];
const s78=[[1980,22.5,20.5,19.5,19,18.5,18,17.5,17,16.5,16,15.5,15,14.5],[1981,22,21.5,20.5,19.5,19,18.5,18,17.5,17,16.5,16,15.5,15,14.5,13.5],[1982,22.5,20,19,18.5,18,17.5,17,16.5,16,15.5,15,14.5,13.5,13],[1983,20,19,18.5,18,17.5,17,16.5,16,15.5,15,14.5,14],[1984,20,19.5,18.5,18,17.5,17,16.5,16,15.5,15,14.5,14],[1985,22,20,19.5,19,18,17.5,17,16.5,16,15.5,15,14.5,14,13,12.5],[2008,20.9,20.5,19.7,19.4,19,18.6,18.2,17.8,17.4,17,16.6,16.2,15.8,15.4,15,14.6,14.2,14],[2010,18,17.5,17,16.5,16,15.5,15,14.5,13.5],[2011,19.7,19.2,18.7,18.2,17.7,17.2,16.7,16.2,15.7,15.2,14.7,14.1],[2012,18.8,18.2,17.6,17,16.6,16.2,15.8,15.4,15,14.4],[2013,16.5,16,15.5]];
const s79=[[1980,14,13.5,13,12.5,12,11.5,11,10.5,10],[1981,14.5,13,12,11.5,11],[1982,15,14,13.5,13,12.5,12,11.5,11,10.5,10],[1983,15,13,12,11,10],[1984,13,12,11],[1985,15,14,13.5,13,12.5,12,11,10],[2008,14,13.6,13.2,12.8,12.5,12.4,12.2,12,11.5,11.4,11.1,10.1,10,9.5],[2010,14.1,12.1,11],[2011,12.7,12.4,12.2,11.3],[2012,12.4,12]];
const s80=[[1980,47,43,41,40,39.5,39,38.5,38,37.5,37,36.5,36,35.5,35,34.5,34,33,32.5,32,31],[1981,45,43,42,41,40,39.5,39,38.5,38,37.5,37,36.5,36,35.5,35,34.5,34,33.5,33],[1982,42.5,41,40,39.5,39,38.5,38,37.5,37,36.5,36,35.5,35,34.5,34,33,32,31.5],[1983,43,42,41,40,39.5,39,38.5,38,37.5,37,36.5,36,35.5,35,34.5,34,33.5,33],[1984,47.5,44.5,43.5,42,41,40,39,38,37,36,35,34,33.5,33,31],[1985,44,43,42,41,40,39.5,39,38.5,38,37.5,37,36.5,36,35.5,35,34.5,33,32],[2008,42.2,41.3,40.8,40.3,39.8,39.3,38.8,38.3,37.8,37.3,36.8,36.3,35.8,35.3,34.8,34.3,33.8,33.3,32.8],[2010,41.5,39,35.5,33.7],[2011,46,41.2,40,39.5,39,38.5,38,37.5,37,36.5,36,35.5,34,33.8,32.5],[2012,41.9,40.5,39,38,37.5,36.7,35,33],[2013,38.5]];

// Fitted linear trend (value at first and last year) and CI half-widths (start, middle, end)
const fitStart=[31.3,34.5,52.7,8.45,34.1,11.9,17.15,50.9,37, 23.8,7.95,14.6,26.15,20.25,29.9,40.6,52.9,68, 11.7,6.12,62.5,46.4,67.1,17.9,110,13.55,28.95, 8.18,114.3,12.55,11.8,10.65,71.9,44.1,211.5,10.67, 16.65,12.35,137,10.4,12.97,24.3,44.6,7.73,10.28, 8.7,8.37,8.1,14.5,24.3,28.9,4.2,5.35,23.5, 30.4,20.25,8.58,12.35,10.35,19.2,35.25,33.6,38.7, 24.7,21.15,14.55,16.7,17.25,20.45,6.84,4.05,18.2, 17.45,17.82,51.2,10.08,49.8,16.85,12.2,37.8];
const fitEnd=[31.7,33.9,49.2,7.9,33.5,11.4,16.2,47.1,35.9, 23.1,7.9,14.75,24.6,19.45,24.7,38.8,53.05,67.5, 11.45,6.38,56,45.0,66.5,17.6,110.8,13.45,28.8, 7.35,111.3,12.0,11.6,10.15,71.5,43.1,221,10.5, 15.65,11.7,133.5,10.2,12.6,23.8,42.4,7.37,10.25, 8.35,8.25,7.95,14.3,23.85,28.3,4.1,5.15,23.75, 30.0,19.75,8.5,11.3,9.85,18.6,30.85,32.6,39.45, 25.0,20.7,15.1,16.05,17.68,19.8,6.58,3.93,17.45, 16.85,17.93,50.35,9.68,46.6,16.3,12.15,37.4];
const ciStart=[.25,.9,1.7,.43,.8,.3,.35,2.5,.5, .45,.2,.2,.5,.25,1.1,.7,.5,2.2, .15,.4,1.75,.5,1.2,.25,2.5,.1,.15, .77,2.2,.25,.12,.15,2.95,.5,7,.12, .2,.15,3.5,.15,.82,.35,.6,.1,.12, .12,.08,.15,.4,.4,.2,.1,.12,.55, 1.45,.12,.1,.55,.15,.35,2.15,.25,.7, .6,.25,1.45,.55,1.55,.2,.14,.12,.12, .12,.35,3.3,.15,.45,.1,.15,.25];
const ciMid=[.25,.7,1.2,.25,.7,.15,.25,1.9,.4, .35,.1,.15,.35,.2,.8,.45,.4,1.2, .12,.45,1.3,.3,.8,.2,1.8,.08,.12, .5,1.8,.2,.1,.1,2.0,.4,13,.08, .25,.12,2.5,.12,.6,.25,.6,.08,.2, .1,.07,.1,.4,.3,.15,.08,.1,.5, 1.2,.1,.07,.4,.12,.35,1.3,.2,1.6, .55,.2,1.7,.5,.9,.15,.1,.08,.1, .1,.25,2.2,.12,.35,.08,.1,.2];
const ciEnd=[.5,1.55,2.65,.53,2.0,.3,.75,4.0,1.2, 1.3,.3,.4,1.0,.6,2.2,1.1,1.0,3.9, .2,.73,3.6,.6,2.1,.45,5.6,.12,.25, 1.1,8.5,.65,.25,.22,3.3,1.1,30.6,.2, .68,.25,6.5,.3,1.1,.75,2.15,.2,.8, .2,.12,.3,1.15,.85,.35,.18,.2,1.5, 4.35,.2,.18,.9,.3,1.4,3.2,.55,4.45, 1.75,.55,2.85,1.75,1.85,.35,.22,.2,.2, .22,.65,3.7,.28,.9,.18,.4,.5];

const yTicks=[["25","30","35"],["32","36","40"],["46","48","50","52","54","56","58"],["6","7","8","9","10","11"],["32","36","40"],["9","10","11","12","13","14"],["12","15","18","21"],["46","50","54"],["35","40"],
["20","22","24","26","28"],["6","7","8","9","10","11"],["12","14","16","18"],["22","24","26","28","30"],["17.5","20.0","22.5","25.0"],["20","25","30","35"],["30","35","40","45","50"],["45","50","55","60"],["60","70","80"],
["8","12","16","20"],["5.0","5.5","6.0","6.5","7.0","7.5"],["50","55","60","65","70"],["35","40","45","50","55"],["60","65","70","75"],["14","16","18","20","22"],["70","90","110","130"],["12","16","20"],["24","28","32","36"],
["6","7","8","9","10"],["100","110","120","130"],["10","11","12","13","14","15"],["9","12","15","18"],["8","10","12"],["65","70","75","80"],["30","35","40","45","50","55"],["200","240","280"],["8","10","12"],
["15","16","17","18","19"],["8","10","12","14"],["100","120","140","160"],["8","10","12","14"],["10","12","14","16"],["20","24","28"],["40","44","48"],["6","7","8","9"],["8","9","10","11","12"],
["7","8","9","10","11"],["7","8","9","10"],["6","8","10"],["12","14","16"],["22.5","25.0","27.5"],["26","30","34"],["3","4","5","6"],["3","4","5","6","7"],["20.0","22.5","25.0","27.5"],
["24","28","32","36"],["16","18","20","22","24","26"],["6","7","8","9","10"],["11","12","13","14"],["8","10","12","14"],["15.0","17.5","20.0","22.5"],["30","33","36","39"],["30","35","40"],["30","35","40","45"],
["20.0","22.5","25.0","27.5","30.0"],["19","21","23","25"],["12","14","16","18"],["10.0","12.5","15.0","17.5"],["16","17","18","19","20"],["18","20","22","24"],["5.5","6.0","6.5","7.0","7.5","8.0"],["3","4","5","6"],["14","16","18","20","22"],
["15.0","17.5","20.0"],["16","18","20","22","24"],["45","50","55","60"],["8","9","10","11","12","13"],["35","40","45","50","55","60"],["12.5","15.0","17.5","20.0","22.5"],["10","11","12","13","14","15"],["35","40","45"]];
const xTicks=["1980","1990","2000","2010"];

const panels=[s1,s2,s3,s4,s5,s6,s7,s8,s9,s10,s11,s12,s13,s14,s15,s16,s17,s18,s19,s20,s21,s22,s23,s24,s25,s26,s27,s28,s29,s30,s31,s32,s33,s34,s35,s36,s37,s38,s39,s40,s41,s42,s43,s44,s45,s46,s47,s48,s49,s50,s51,s52,s53,s54,s55,s56,s57,s58,s59,s60,s61,s62,s63,s64,s65,s66,s67,s68,s69,s70,s71,s72,s73,s74,s75,s76,s77,s78,s79,s80];

// ---- layout geometry (reference pixel space 5400) ----
const REF=5400, PW=480, PH=489, ROW0=94, ROWP=585.5;
const colLeft=[169,755,1341,1938,2533,3131,3716,4301,4897];
const S=4096/REF;
const FONT="Liberation Sans, Arial, Helvetica, sans-serif";
const XR=[1978.35,2014.65];

const pts=[], bands=[], lines=[];
const layout={width:4096,height:4096,margin:{l:0,r:0,t:0,b:0},paper_bgcolor:'#fff',plot_bgcolor:'#fff',showlegend:false,font:{family:FONT},annotations:[]};

panels.forEach((grp,i)=>{
  const r=Math.floor(i/9), c=i%9, n=i+1;
  const xa=n===1?'x':'x'+n, ya=n===1?'y':'y'+n;
  const X=[],Y=[];
  grp.forEach(g=>{for(let k=1;k<g.length;k++){X.push(g[0]);Y.push(g[k]);}});
  const x0=Math.min(...X), x1=Math.max(...X), xm=(x0+x1)/2;
  const f0=fitStart[i], f1=fitEnd[i];
  const a=ciStart[i]**2, b=ciMid[i]**2, cc=ciEnd[i]**2;
  const bx=[],up=[],lo=[];
  const N=60;
  for(let k=0;k<=N;k++){
    const x=x0+(x1-x0)*k/N;
    const q=a*(x-xm)*(x-x1)/((x0-xm)*(x0-x1))+b*(x-x0)*(x-x1)/((xm-x0)*(xm-x1))+cc*(x-x0)*(x-xm)/((x1-x0)*(x1-xm));
    const h=Math.sqrt(Math.max(q,Math.min(a,b,cc)*0.5));
    const f=f0+(f1-f0)*(x-x0)/(x1-x0);
    bx.push(x);up.push(f+h);lo.push(f-h);
  }
  const ymin=Math.min(Math.min(...Y),Math.min(...lo)), ymax=Math.max(Math.max(...Y),Math.max(...up));
  const pad=(ymax-ymin)*0.05;

  pts.push({type:'scatter',mode:'markers',x:X,y:Y,xaxis:xa,yaxis:ya,hoverinfo:'skip',
    marker:{symbol:'circle-open',size:11.8,color:'#000',line:{width:1.9,color:'#000'}}});
  bands.push({type:'scatter',mode:'lines',x:bx.concat(bx.slice().reverse()),y:up.concat(lo.slice().reverse()),
    xaxis:xa,yaxis:ya,fill:'toself',fillcolor:'rgba(153,153,153,0.4)',line:{width:0,color:'rgba(0,0,0,0)'},hoverinfo:'skip'});
  lines.push({type:'scatter',mode:'lines',x:[x0,x1],y:[f0,f1],xaxis:xa,yaxis:ya,hoverinfo:'skip',
    line:{color:'#000',width:5,dash:'26px,25px'}});

  const L=colLeft[c], top=ROW0+ROWP*r;
  const bottomPanel=(i>=72)||(i===71);
  const axBase={showline:true,mirror:true,linecolor:'#333333',linewidth:1.4,showgrid:false,zeroline:false,
    tickcolor:'#333333',tickwidth:1.4,ticklen:9,tickfont:{family:FONT,size:26.5,color:'#4D4D4D'},ticklabelstandoff:4,fixedrange:true};
  layout['xaxis'+(n===1?'':n)]=Object.assign({},axBase,{domain:[L/REF,(L+PW)/REF],range:XR,anchor:ya,
    tickmode:'array',tickvals:xTicks.map(Number),ticktext:xTicks,ticks:bottomPanel?'outside':'',showticklabels:bottomPanel});
  layout['yaxis'+(n===1?'':n)]=Object.assign({},axBase,{domain:[1-(top+PH)/REF,1-top/REF],range:[ymin-pad,ymax+pad],anchor:xa,
    tickmode:'array',tickvals:yTicks[i].map(Number),ticktext:yTicks[i],ticks:'outside'});
  layout.annotations.push({xref:'paper',yref:'paper',x:(L+PW/2)/REF,y:1-top/REF,xanchor:'center',yanchor:'bottom',yshift:9,
    showarrow:false,width:PW*S,text:'<i>'+species[i]+'</i>',font:{family:FONT,size:27.5,color:'#1A1A1A'}});
});

layout.annotations.push({xref:'paper',yref:'paper',x:41/REF,y:1-2680/REF,xanchor:'center',yanchor:'middle',textangle:-90,
  showarrow:false,text:'Mass',font:{family:FONT,size:33.5,color:'#000'}});
layout.annotations.push({xref:'paper',yref:'paper',x:2774/REF,y:1-5352/REF,xanchor:'center',yanchor:'middle',
  showarrow:false,text:'Year',font:{family:FONT,size:33.5,color:'#000'}});

const traces=[];
for(let i=0;i<panels.length;i++){traces.push(pts[i],bands[i],lines[i]);}
Plotly.newPlot('chart',traces,layout,{staticPlot:true,displayModeBar:false});
</script></body></html>
